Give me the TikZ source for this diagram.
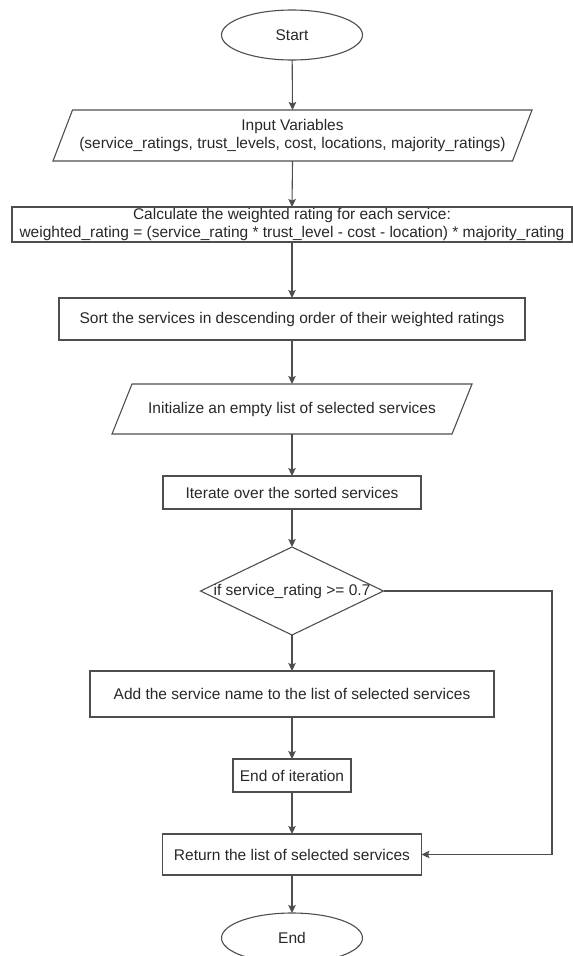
\documentclass[tikz,border=0pt]{standalone}
\usepackage{fontspec}
\setmainfont{Liberation Sans}
\usetikzlibrary{arrows.meta,shapes.geometric,calc}
\definecolor{linec}{RGB}{78,78,78}
\definecolor{textc}{RGB}{40,40,40}
\begin{document}
\begin{tikzpicture}[x=1pt,y=-1pt,
  every node/.style={inner sep=0pt, outer sep=0pt, text=textc, align=center,
    font=\fontsize{15.5}{18.5}\selectfont},
  procbox/.style={draw=linec, line width=1.1pt, rectangle},
  hidden/.style={draw=none, rectangle},
  termbox/.style={draw=linec, line width=1.1pt, ellipse, minimum width=141pt, minimum height=50pt},
  shapeline/.style={draw=linec, line width=1.1pt},
  arr/.style={draw=linec, line width=1.1pt, -{Stealth[length=8pt,width=7.5pt,inset=1.5pt]}}
]
\useasboundingbox (0,0) rectangle (573,956);

\node[termbox] (start) at (292,35) {Start};
\node[hidden, minimum width=479pt, minimum height=51pt] (inp) at (292.5,135.5)
  {Input Variables\\(service\_ratings, trust\_levels, cost, locations, majority\_ratings)};
\draw[shapeline] ($(inp.north west)+(19.5,0)$) -- (inp.north east)
  -- ($(inp.south east)+(-19.5,0)$) -- (inp.south west) -- cycle;
\node[procbox, minimum width=560pt, minimum height=35pt] (calc) at (292,224.5)
  {Calculate the weighted rating for each service:\\weighted\_rating = (service\_rating * trust\_level - cost - location) * majority\_rating};
\node[procbox, minimum width=466pt, minimum height=42pt] (sort) at (292,319)
  {Sort the services in descending order of their weighted ratings};
\node[hidden, minimum width=360pt, minimum height=50pt] (init) at (292,409)
  {Initialize an empty list of selected services};
\draw[shapeline] ($(init.north west)+(20,0)$) -- (init.north east)
  -- ($(init.south east)+(-20,0)$) -- (init.south west) -- cycle;
\node[procbox, minimum width=258pt, minimum height=33pt] (iter) at (292,492.5)
  {Iterate over the sorted services};
\node[hidden, minimum width=183pt, minimum height=88pt] (dec) at (292,591)
  {if service\_rating >= 0.7};
\draw[shapeline] (dec.north) -- (dec.east) -- (dec.south) -- (dec.west) -- cycle;
\node[procbox, minimum width=404pt, minimum height=46pt] (add) at (292,694)
  {Add the service name to the list of selected services};
\node[procbox, minimum width=118pt, minimum height=33pt] (endit) at (292,775.5)
  {End of iteration};
\node[procbox, minimum width=259pt, minimum height=41pt] (ret) at (292,854.5)
  {Return the list of selected services};
\node[termbox] (end) at (292,938) {End};
\coordinate (corner) at (552,591);

\draw[arr] (start) -- (inp.north);
\draw[arr] (inp.south) -- (calc.north);
\draw[arr] (calc.south) -- (sort.north);
\draw[arr] (sort.south) -- (init.north);
\draw[arr] (init.south) -- (iter.north);
\draw[arr] (iter.south) -- (dec.north);
\draw[arr] (dec.south) -- (add.north);
\draw[arr] (add.south) -- (endit.north);
\draw[arr] (endit.south) -- (ret.north);
\draw[arr] (ret.south) -- (end.north);
\draw[arr] (dec.east) -- (corner) |- (ret.east);
\end{tikzpicture}
\end{document}
